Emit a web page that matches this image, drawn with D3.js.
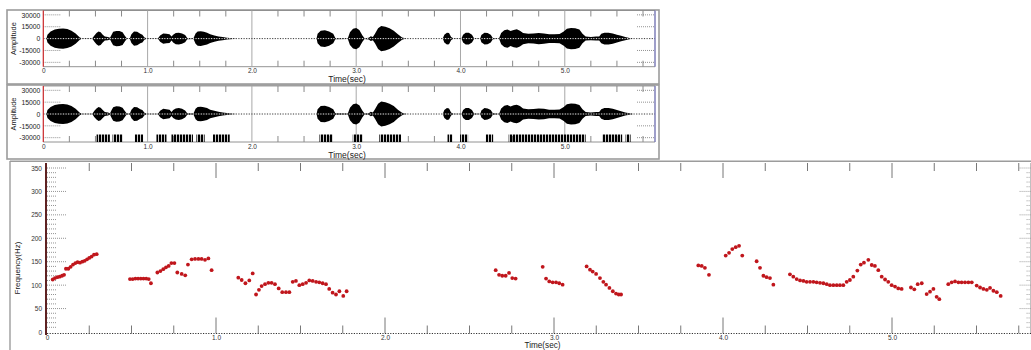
<!DOCTYPE html>
<html><head><meta charset="utf-8">
<script src="https://cdn.jsdelivr.net/npm/d3@7/dist/d3.min.js"></script>
<style>
body{margin:0;background:#fff}
svg{display:block;font-family:"Liberation Sans",Arial,sans-serif}
</style>
</head><body>
<svg id="c" width="1031" height="350"></svg>
<script>
// ---------------- DATA ----------------
const ampTicks = [30000, 15000, 0, -15000, -30000];
const ampTickLabels = ["30000", "15000", "0", "-15000", "-30000"];
const timeTicks = [0, 1, 2, 3, 4, 5];
const timeTickLabels = ["0", "1.0", "2.0", "3.0", "4.0", "5.0"];
const freqTicks = [0, 50, 100, 150, 200, 250, 300, 350];
const freqTickLabels = ["0", "50", "100", "150", "200", "250", "300", "350"];

// waveform envelope (seconds, peak amplitude)
const envTime = [0.00,0.03,0.04,0.07,0.11,0.15,0.19,0.23,0.27,0.31,0.35,0.37,
 0.47,0.49,0.51,0.53,0.55,0.57,0.59,0.62,0.64,
 0.655,0.67,0.70,0.73,0.76,0.78,0.80,
 0.83,0.845,0.87,0.90,0.93,0.95,0.97,0.99,
 1.10,1.12,1.15,1.18,1.21,1.23,1.245,1.27,1.30,1.33,1.36,1.38,
 1.44,1.46,1.48,1.51,1.54,1.57,1.60,1.64,1.68,1.72,1.76,1.82,1.85,
 2.62,2.63,2.66,2.70,2.74,2.78,2.80,
 2.92,2.94,2.97,3.00,3.03,3.06,3.08,
 3.12,3.14,3.16,3.18,3.21,3.24,3.28,3.32,3.36,3.40,3.44,3.47,3.50,
 3.83,3.845,3.87,3.89,3.91,3.93,
 4.01,4.025,4.05,4.08,4.11,4.13,
 4.19,4.20,4.23,4.26,4.29,4.31,
 4.37,4.39,4.42,4.45,4.48,4.51,4.54,4.57,4.60,4.65,4.70,4.75,4.80,4.85,4.90,4.95,
 4.99,5.02,5.06,5.10,5.14,5.17,5.20,5.25,5.30,5.33,
 5.35,5.38,5.42,5.46,5.50,5.54,5.58,5.62,5.66,5.86];
const envAmp = [0,0,5000,9000,11500,12500,12800,12000,10000,6500,1500,300,
 300,4000,7000,9000,8000,5000,2500,2000,1000,
 5000,8500,9700,9500,8000,4000,500,
 500,5500,9000,8500,6000,5000,1500,300,
 300,4000,6500,6000,5500,2500,5000,7000,7500,6500,4500,800,
 500,6500,9000,9200,8500,7500,5500,4000,2800,2000,1200,400,0,
 0,6000,10000,10500,9000,6000,800,
 500,8000,12500,13400,11000,4000,500,
 1000,3000,2000,6000,13000,16000,15000,13000,10000,5500,1500,300,0,
 0,5000,7500,7000,2000,300,
 300,5000,7500,7500,5000,500,
 300,4500,7500,7000,5000,800,
 300,7000,10500,11500,9500,11000,11700,10000,7000,6000,6300,7000,6500,5500,5500,5800,
 9000,12500,13400,13000,11500,6000,2500,2000,2500,2500,
 6000,7500,7500,6500,5000,3500,2000,800,0,0];

// voiced-frame marks (start, end in seconds)
const voicedStart = [0.511,0.664,0.878,1.085,1.229,1.468,1.627,2.648,2.967,3.222,3.876,3.996,4.243,4.462,5.359,5.583];
const voicedEnd   = [0.638,0.760,0.957,1.181,1.435,1.547,1.787,2.775,3.062,3.430,3.923,4.073,4.313,5.200,5.550,5.631];

// pitch track (seconds, Hz)
const pitchTime = [
 0.034,0.047,0.061,0.075,0.089,0.101,0.112,0.126,0.140,0.154,0.168,0.181,0.195,0.209,0.223,0.237,0.250,0.264,0.278,0.294,
 0.491,0.507,0.523,0.539,0.555,0.571,0.587,0.602,0.615,0.653,0.671,0.688,0.704,0.720,0.736,0.754,0.771,0.797,0.818,0.834,0.856,0.876,0.896,0.915,0.935,0.955,0.974,
 1.132,1.152,1.174,1.197,1.217,1.237,1.254,1.270,1.290,1.310,1.329,1.349,1.371,1.392,1.414,1.434,1.454,1.473,1.493,1.513,1.533,1.552,1.572,1.592,1.611,1.631,1.651,1.670,1.690,1.710,1.730,1.753,1.773,
 2.655,2.675,2.694,2.714,2.734,2.753,2.773,
 2.933,2.953,2.972,2.992,3.012,3.031,3.051,
 3.193,3.213,3.229,3.249,3.272,3.292,3.308,3.328,3.348,3.367,3.383,3.397,
 3.854,3.874,3.893,3.917,
 4.016,4.036,4.055,4.075,4.095,4.114,
 4.199,4.219,4.239,4.258,4.278,4.298,
 4.396,4.416,4.436,4.456,4.476,4.495,4.515,4.535,4.554,4.574,4.594,4.614,4.633,4.653,4.673,4.692,4.712,4.732,4.751,4.771,4.795,4.815,4.834,4.860,4.880,4.899,4.919,4.939,4.959,4.978,4.998,5.018,5.037,5.057,
 5.112,5.132,5.152,5.176,5.205,5.225,5.245,5.264,5.280,
 5.333,5.353,5.373,5.393,5.412,5.432,5.452,5.472,5.501,5.521,5.541,5.561,5.580,5.600,5.620,5.643];
const pitchHz = [
 112,115,117,118,120,122,135,135,139,144,147,149,148,150,152,155,158,161,165,166,
 113,113,114,114,114,114,114,113,104,127,130,134,138,141,147,147,127,124,121,144,155,156,156,156,154,157,132,
 116,111,104,110,125,80,90,98,102,105,105,102,93,85,85,85,107,109,100,102,105,110,109,107,106,104,102,92,84,80,87,77,87,
 132,122,120,120,126,115,114,
 139,114,108,106,106,104,101,
 140,133,129,124,115,107,101,94,87,82,80,80,
 142,141,137,122,
 163,169,177,181,184,163,
 151,137,120,117,115,101,
 123,118,113,110,109,107,107,107,106,105,104,102,100,100,100,100,100,107,111,118,131,144,148,154,143,141,132,118,112,107,100,97,93,92,
 95,91,102,104,81,86,92,75,70,
 102,106,108,106,106,106,106,106,99,95,92,90,94,88,85,77];

// ---------------- DRAW ----------------
const svg = d3.select("#c");
const defs = svg.append("defs");
const pat = defs.append("pattern").attr("id","stripes").attr("patternUnits","userSpaceOnUse")
  .attr("width",3).attr("height",10);
pat.append("rect").attr("x",0).attr("y",0).attr("width",2.2).attr("height",10).attr("fill","#000");

const xW = d3.scaleLinear().domain([0, 5.865]).range([43.3, 655]);
const quarter = d3.range(0, 23).map(i => i * 0.25 + 0.25).filter(t => t < 5.86);

function wavePanel(frameTop, frameBottom, top, bottom, withMarks) {
  const g = svg.append("g");
  const y = d3.scaleLinear().domain([-35500, 35500]).range([bottom, top]);
  g.append("rect").attr("x",7).attr("y",frameTop).attr("width",652).attr("height",frameBottom-frameTop)
    .attr("fill","#fff").attr("stroke","#9c9c9c").attr("stroke-width",1.6);
  g.append("line").attr("x1",xW(0)).attr("x2",655).attr("y1",bottom).attr("y2",bottom)
    .attr("stroke","#777").attr("stroke-width",0.8);
  g.append("line").attr("x1",xW(0)).attr("x2",655).attr("y1",top).attr("y2",top)
    .attr("stroke","#888").attr("stroke-width",0.8);
  g.selectAll(".maj").data(timeTicks.slice(1)).join("line")
    .attr("x1",d=>xW(d)).attr("x2",d=>xW(d)).attr("y1",top).attr("y2",bottom)
    .attr("stroke","#a8a8a8").attr("stroke-width",1);
  const minor = quarter.filter(t => Math.abs(t - Math.round(t)) > 0.01);
  g.selectAll(".mt").data(minor).join("line")
    .attr("x1",d=>xW(d)).attr("x2",d=>xW(d)).attr("y1",top).attr("y2",top+6)
    .attr("stroke","#8a8a8a").attr("stroke-width",1);
  g.selectAll(".mb").data(minor).join("line")
    .attr("x1",d=>xW(d)).attr("x2",d=>xW(d)).attr("y1",bottom-6).attr("y2",bottom)
    .attr("stroke","#8a8a8a").attr("stroke-width",1);
  const nz = ampTicks.filter(d => d !== 0);
  g.selectAll(".dl").data(nz).join("line")
    .attr("x1",xW(0)).attr("x2",xW(0)+18).attr("y1",d=>y(d)).attr("y2",d=>y(d))
    .attr("stroke","#777").attr("stroke-dasharray","1,1").attr("stroke-width",0.8);
  g.selectAll(".dr").data(nz).join("line")
    .attr("x1",655-18).attr("x2",655).attr("y1",d=>y(d)).attr("y2",d=>y(d))
    .attr("stroke","#777").attr("stroke-dasharray","1,1").attr("stroke-width",0.8);
  if (withMarks) {
    g.selectAll(".vm").data(voicedStart).join("rect")
      .attr("x",(d)=>xW(d)).attr("width",(d,i)=>xW(voicedEnd[i])-xW(d))
      .attr("y",y(-26000)).attr("height",bottom-y(-26000))
      .attr("fill","url(#stripes)");
  }
  const pts = envTime.map((t,i)=>[t, envAmp[i]]);
  const area = d3.area().x(d=>xW(d[0])).y0(d=>y(-d[1])).y1(d=>y(d[1]));
  g.append("path").datum(pts).attr("d",area).attr("fill","#000");
  // zero dotted line: white base so gaps show light over the waveform
  g.append("line").attr("x1",xW(0)).attr("x2",655).attr("y1",y(0)).attr("y2",y(0))
    .attr("stroke","#fff").attr("stroke-width",0.9).attr("stroke-dasharray","1.4,1.2").attr("stroke-dashoffset",1.3);
  g.append("line").attr("x1",xW(0)).attr("x2",655).attr("y1",y(0)).attr("y2",y(0))
    .attr("stroke","#222").attr("stroke-dasharray","1.2,1.4").attr("stroke-width",0.9);
  g.append("line").attr("x1",xW(0)).attr("x2",xW(0)).attr("y1",top).attr("y2",bottom)
    .attr("stroke","#c8262a").attr("stroke-width",1.2);
  g.append("line").attr("x1",655).attr("x2",655).attr("y1",top).attr("y2",bottom)
    .attr("stroke","#7676b4").attr("stroke-width",1.4);
  const ya = d3.axisLeft(y).tickValues(ampTicks).tickFormat((d,i)=>ampTickLabels[i]).tickSize(0).tickPadding(3);
  const yg = g.append("g").attr("transform",`translate(${xW(0)},0)`).call(ya);
  yg.select(".domain").remove();
  yg.selectAll("text").attr("font-size",6.8).attr("fill","#222").attr("font-family","Liberation Sans, Arial, sans-serif");
  const xa = d3.axisBottom(xW).tickValues(timeTicks).tickFormat((d,i)=>timeTickLabels[i]).tickSize(0).tickPadding(2);
  const xg = g.append("g").attr("transform",`translate(0,${bottom})`).call(xa);
  xg.select(".domain").remove();
  xg.selectAll("text").attr("font-size",6.5).attr("fill","#333").attr("font-family","Liberation Sans, Arial, sans-serif");
  g.append("text").attr("x",347).attr("y",bottom+15.5).attr("text-anchor","middle")
    .attr("font-size",8.5).attr("fill","#222").text("Time(sec)");
  g.append("text").attr("transform",`translate(15.5,${(top+bottom)/2}) rotate(-90)`)
    .attr("text-anchor","middle").attr("font-size",7.4).attr("fill","#222").text("Amplitude");
}

wavePanel(10, 84, 10.5, 66.7, false);
wavePanel(85, 159, 86, 142, true);

// ---------------- pitch panel ----------------
const xP = d3.scaleLinear().domain([0, 5.82]).range([47, 47 + 5.82 * 169]);
const yP = d3.scaleLinear().domain([0, 350]).range([332, 168]);
const gp = svg.append("g");
const pTop = 163, pBot = 333.5, pRight = xP(5.82);
gp.append("line").attr("x1",10).attr("x2",1031).attr("y1",161.2).attr("y2",161.2)
  .attr("stroke","#9c9c9c").attr("stroke-width",1.6);
gp.append("line").attr("x1",10).attr("x2",10).attr("y1",161).attr("y2",350)
  .attr("stroke","#9c9c9c").attr("stroke-width",1.4);
gp.append("line").attr("x1",pRight).attr("x2",pRight).attr("y1",pTop).attr("y2",pBot)
  .attr("stroke","#bbb").attr("stroke-width",1);
const pq = d3.range(1, 24).map(i => i * 0.25).filter(t => t <= 5.8);
const isMaj = t => Math.abs(t - Math.round(t)) < 0.01;
gp.selectAll(".pt").data(pq).join("line")
  .attr("x1",d=>xP(d)).attr("x2",d=>xP(d)).attr("y1",pTop).attr("y2",d=>pTop+(isMaj(d)?15:8))
  .attr("stroke","#777").attr("stroke-width",1);
gp.selectAll(".pb").data(pq).join("line")
  .attr("x1",d=>xP(d)).attr("x2",d=>xP(d)).attr("y1",d=>pBot-(isMaj(d)?16:8)).attr("y2",pBot)
  .attr("stroke","#777").attr("stroke-width",1);
const fMinor = d3.range(10, 351, 10);
gp.selectAll(".fl").data(fMinor).join("line")
  .attr("x1",47).attr("x2",d=>47+(d%50===0?20:10)).attr("y1",d=>yP(d)).attr("y2",d=>yP(d))
  .attr("stroke","#777").attr("stroke-dasharray","1,1").attr("stroke-width",0.8);
gp.selectAll(".fr").data(fMinor).join("line")
  .attr("x1",d=>pRight-(d%50===0?11:4)).attr("x2",pRight).attr("y1",d=>yP(d)).attr("y2",d=>yP(d))
  .attr("stroke","#888").attr("stroke-dasharray","1,1").attr("stroke-width",0.8);
gp.append("line").attr("x1",47).attr("x2",1031).attr("y1",pBot).attr("y2",pBot)
  .attr("stroke","#333").attr("stroke-dasharray","1.2,1.4").attr("stroke-width",1);
gp.append("line").attr("x1",46).attr("x2",46).attr("y1",pTop).attr("y2",pBot+1.5)
  .attr("stroke","#5e2222").attr("stroke-width",2);
const fa = d3.axisLeft(yP).tickValues(freqTicks).tickFormat((d,i)=>freqTickLabels[i]).tickSize(0).tickPadding(4);
const fg = gp.append("g").attr("transform","translate(46,0)").call(fa);
fg.select(".domain").remove();
fg.selectAll("text").attr("font-size",6.5).attr("fill","#333").attr("font-family","Liberation Sans, Arial, sans-serif");
const pxa = d3.axisBottom(xP).tickValues(timeTicks).tickFormat((d,i)=>timeTickLabels[i]).tickSize(0).tickPadding(2);
const pxg = gp.append("g").attr("transform",`translate(0,${pBot})`).call(pxa);
pxg.select(".domain").remove();
pxg.selectAll("text").attr("font-size",6.5).attr("fill","#333").attr("font-family","Liberation Sans, Arial, sans-serif");
gp.append("text").attr("x",542.5).attr("y",347.8).attr("text-anchor","middle")
  .attr("font-size",8.2).attr("fill","#222").text("Time(sec)");
gp.append("text").attr("transform","translate(20,268) rotate(-90)")
  .attr("text-anchor","middle").attr("font-size",8).attr("fill","#222").text("Frequency(Hz)");
gp.selectAll(".pp").data(pitchTime).join("circle")
  .attr("cx",d=>xP(d)).attr("cy",(d,i)=>yP(pitchHz[i])).attr("r",1.9)
  .attr("fill","#c0161c");
</script>
</body></html>
